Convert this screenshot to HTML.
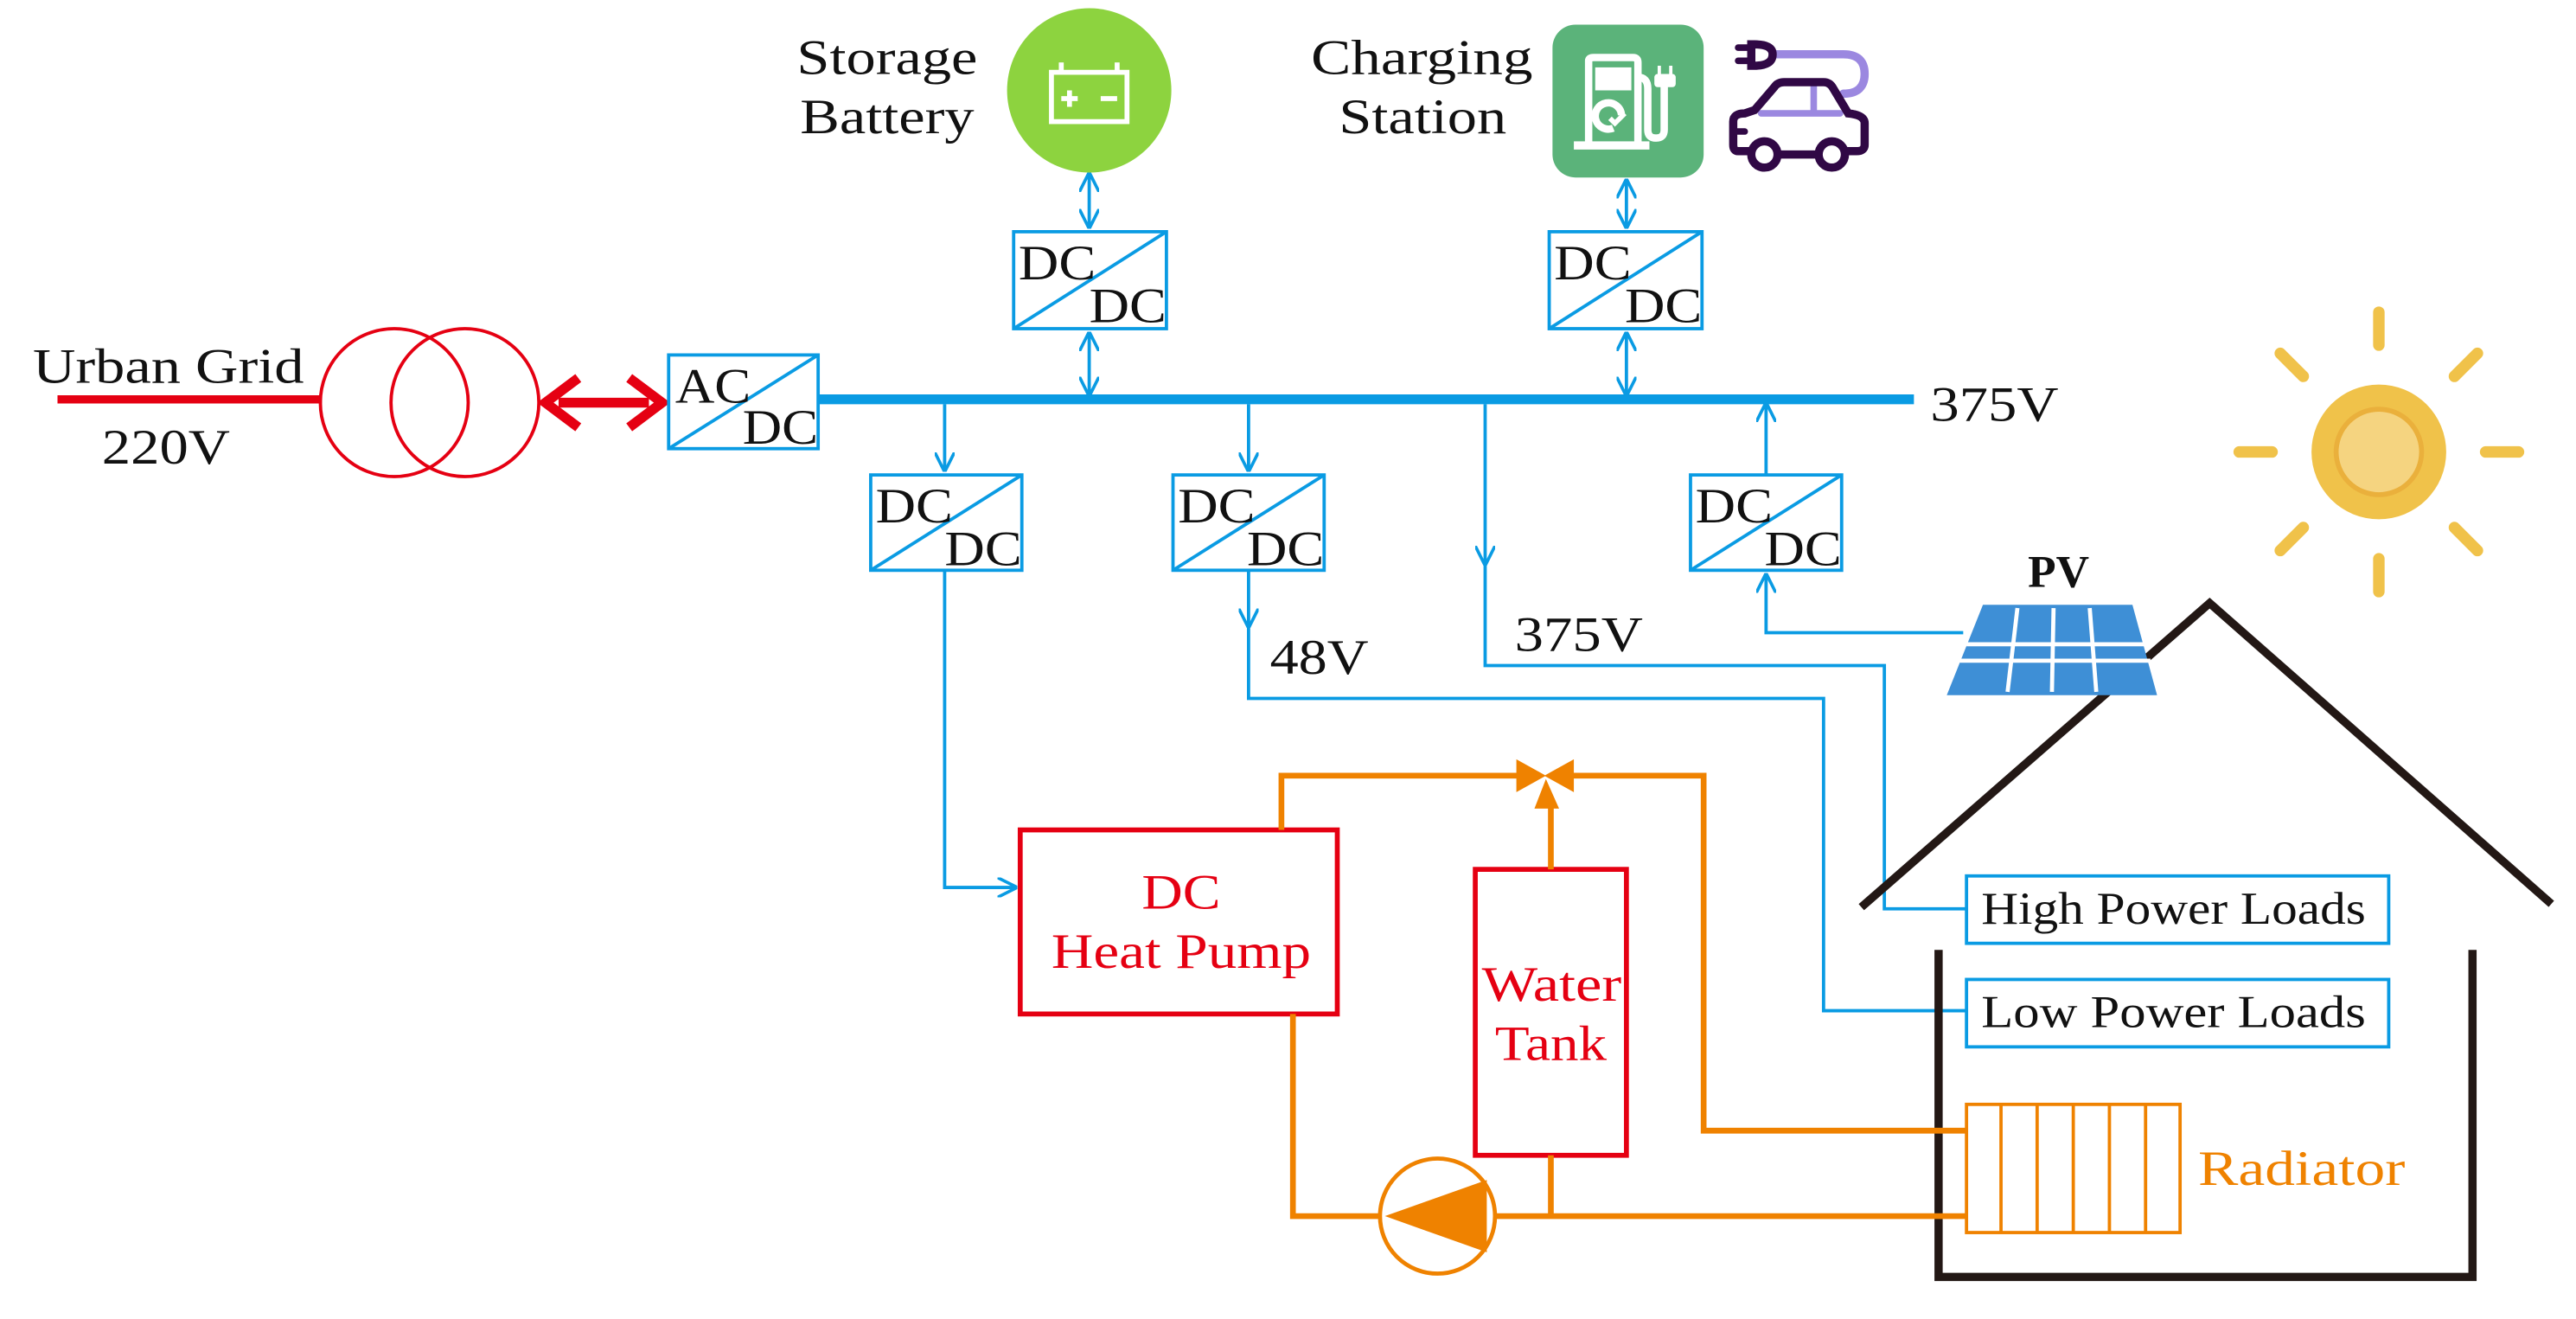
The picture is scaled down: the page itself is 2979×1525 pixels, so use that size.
<!DOCTYPE html>
<html><head><meta charset="utf-8"><style>
html,body{margin:0;padding:0;background:#fff}
svg{display:block}
text{font-family:"Liberation Serif",serif}
</style></head><body>
<svg width="2979" height="1525" viewBox="0 0 1568 802.6" preserveAspectRatio="none" xmlns="http://www.w3.org/2000/svg">
<defs>
<marker id="ab" viewBox="0 0 10 10" refX="9" refY="5" markerWidth="6" markerHeight="6" orient="auto-start-reverse"><path d="M0,0 L10,5 L0,10" fill="none" stroke="#0a9be3" stroke-width="1.6"/></marker>
</defs>
<g font-size="30" fill="#111" lengthAdjust="spacingAndGlyphs">
<text x="20" y="233" textLength="165" lengthAdjust="spacingAndGlyphs">Urban Grid</text>
<text x="62" y="282" textLength="78" lengthAdjust="spacingAndGlyphs">220V</text>
<text x="1175" y="256" textLength="78" lengthAdjust="spacingAndGlyphs">375V</text>
<text x="773" y="410" textLength="60" lengthAdjust="spacingAndGlyphs">48V</text>
<text x="922" y="396" textLength="78" lengthAdjust="spacingAndGlyphs">375V</text>
<text x="485" y="45" textLength="110" lengthAdjust="spacingAndGlyphs">Storage</text>
<text x="487" y="81" textLength="106" lengthAdjust="spacingAndGlyphs">Battery</text>
<text x="798" y="45" textLength="135" lengthAdjust="spacingAndGlyphs">Charging</text>
<text x="815" y="81" textLength="102" lengthAdjust="spacingAndGlyphs">Station</text>
<text x="1253" y="357" text-anchor="middle" font-weight="bold" font-size="28">PV</text>
</g>
<line x1="35" y1="243" x2="196" y2="243" stroke="#e50012" stroke-width="5"/>
<circle cx="240" cy="245" r="45" fill="none" stroke="#e50012" stroke-width="2"/>
<circle cx="283" cy="245" r="45" fill="none" stroke="#e50012" stroke-width="2"/>
<line x1="340" y1="245" x2="395" y2="245" stroke="#e50012" stroke-width="6"/>
<path d="M352,230 L332,245 L352,260 M383,230 L403,245 L383,260" fill="none" stroke="#e50012" stroke-width="6"/>
<line x1="498" y1="243" x2="1165" y2="243" stroke="#0a9be3" stroke-width="6"/>
<g fill="none" stroke="#0a9be3" stroke-width="2">
<rect x="407" y="216" width="91" height="57"/><line x1="407" y1="273" x2="498" y2="216"/>
<rect x="617" y="141" width="93" height="59"/><line x1="617" y1="200" x2="710" y2="141"/>
<rect x="943" y="141" width="93" height="59"/><line x1="943" y1="200" x2="1036" y2="141"/>
<rect x="530" y="289" width="92" height="58"/><line x1="530" y1="347" x2="622" y2="289"/>
<rect x="714" y="289" width="92" height="58"/><line x1="714" y1="347" x2="806" y2="289"/>
<rect x="1029" y="289" width="92" height="58"/><line x1="1029" y1="347" x2="1121" y2="289"/>
<line x1="663" y1="106" x2="663" y2="138" marker-start="url(#ab)" marker-end="url(#ab)"/>
<line x1="663" y1="203" x2="663" y2="240" marker-start="url(#ab)" marker-end="url(#ab)"/>
<line x1="990" y1="110" x2="990" y2="138" marker-start="url(#ab)" marker-end="url(#ab)"/>
<line x1="990" y1="203" x2="990" y2="240" marker-start="url(#ab)" marker-end="url(#ab)"/>
<line x1="575" y1="246" x2="575" y2="286" marker-end="url(#ab)"/>
<line x1="760" y1="246" x2="760" y2="286" marker-end="url(#ab)"/>
<line x1="1075" y1="289" x2="1075" y2="246" marker-end="url(#ab)"/>
<line x1="904" y1="246" x2="904" y2="343" marker-end="url(#ab)"/>
<polyline points="904,343 904,405 1147,405 1147,553 1197,553"/>
<line x1="760" y1="347" x2="760" y2="381" marker-end="url(#ab)"/>
<polyline points="760,381 760,425 1110,425 1110,615 1197,615"/>
<polyline points="575,347 575,540 618,540" marker-end="url(#ab)"/>
<polyline points="1195,385 1075,385 1075,350" marker-end="url(#ab)"/>
<rect x="1197" y="533" width="257" height="41"/>
<rect x="1197" y="596" width="257" height="41"/>
</g>
<g font-size="30" fill="#111">
<text x="411" y="245" textLength="46" lengthAdjust="spacingAndGlyphs">AC</text><text x="452" y="270" textLength="46" lengthAdjust="spacingAndGlyphs">DC</text>
<text x="620" y="170" textLength="47" lengthAdjust="spacingAndGlyphs">DC</text><text x="663" y="196" textLength="47" lengthAdjust="spacingAndGlyphs">DC</text>
<text x="946" y="170" textLength="47" lengthAdjust="spacingAndGlyphs">DC</text><text x="989" y="196" textLength="47" lengthAdjust="spacingAndGlyphs">DC</text>
<text x="533" y="318" textLength="47" lengthAdjust="spacingAndGlyphs">DC</text><text x="575" y="344" textLength="47" lengthAdjust="spacingAndGlyphs">DC</text>
<text x="717" y="318" textLength="47" lengthAdjust="spacingAndGlyphs">DC</text><text x="759" y="344" textLength="47" lengthAdjust="spacingAndGlyphs">DC</text>
<text x="1032" y="318" textLength="47" lengthAdjust="spacingAndGlyphs">DC</text><text x="1074" y="344" textLength="47" lengthAdjust="spacingAndGlyphs">DC</text>
<text x="1206" y="562" font-size="28" textLength="234" lengthAdjust="spacingAndGlyphs">High Power Loads</text>
<text x="1206" y="625" font-size="28" textLength="234" lengthAdjust="spacingAndGlyphs">Low Power Loads</text>
</g>
<circle cx="663" cy="55" r="50" fill="#8dd33f"/>
<g fill="none" stroke="#fff" stroke-width="3"><rect x="640" y="44" width="46" height="30"/><line x1="646" y1="38" x2="646" y2="44"/><line x1="680" y1="38" x2="680" y2="44"/></g>
<g stroke="#fff" stroke-width="3"><line x1="646" y1="60" x2="656" y2="60"/><line x1="651" y1="55" x2="651" y2="65"/><line x1="670" y1="60" x2="680" y2="60"/></g>
<!-- charging station -->
<rect x="945" y="15" width="92" height="93" rx="14" fill="#5bb37a"/>
<g fill="none" stroke="#fff" stroke-width="4.5">
<path d="M967,88 V37 Q967,35 970,35 H994 Q997,35 997,38 V88"/>
<path d="M997,47 Q1003,47 1003,54 V79 Q1003,84 1008,84 Q1013,84 1013,79 V50"/>
<path d="M982,78 A8,8 0 1 1 987,70"/>
<path d="M980,72 L983,75 L989,69" stroke-width="3"/>
</g>
<rect x="958" y="86" width="46" height="5" fill="#fff"/>
<rect x="971" y="41" width="22" height="14" fill="#fff"/>
<rect x="1007" y="45" width="13" height="8" rx="2" fill="#fff"/>
<rect x="1009" y="40" width="2" height="6" fill="#fff"/><rect x="1016" y="40" width="2" height="6" fill="#fff"/>
<!-- car -->
<g fill="none" stroke-linecap="round">
<path d="M1079,33 H1122 Q1135,33 1135,45 Q1135,57 1122,57" stroke="#9b88e0" stroke-width="5"/>
<path d="M1072,69 H1120 M1104,52 V69" stroke="#9b88e0" stroke-width="4"/>
<path d="M1068,27 Q1079,27 1079,33 Q1079,40 1068,40 H1066 V27 Z" stroke="#300845" stroke-width="5"/>
<line x1="1058" y1="29" x2="1064" y2="29" stroke="#300845" stroke-width="4"/>
<line x1="1058" y1="37" x2="1064" y2="37" stroke="#300845" stroke-width="4"/>
<path d="M1067,92 H1058 Q1055,92 1055,88 V74 Q1055,69 1062,69 L1068,67 L1080,53 Q1082,50 1086,50 H1110 Q1114,50 1116,54 L1125,69 Q1135,70 1135,75 V88 Q1135,92 1130,92 H1122 M1081,94 H1107" stroke="#300845" stroke-width="5"/>
<line x1="1056" y1="80" x2="1062" y2="80" stroke="#300845" stroke-width="4"/>
</g>
<circle cx="1074" cy="94" r="8" fill="#fff" stroke="#300845" stroke-width="5"/>
<circle cx="1115" cy="94" r="8" fill="#fff" stroke="#300845" stroke-width="5"/>
<!-- sun -->
<g stroke="#f0c24a" stroke-width="7" stroke-linecap="round">
<line x1="1448" y1="190" x2="1448" y2="210"/><line x1="1448" y1="340" x2="1448" y2="360"/>
<line x1="1363" y1="275" x2="1383" y2="275"/><line x1="1513" y1="275" x2="1533" y2="275"/>
<line x1="1388" y1="215" x2="1402" y2="229"/><line x1="1494" y1="321" x2="1508" y2="335"/>
<line x1="1508" y1="215" x2="1494" y2="229"/><line x1="1402" y1="321" x2="1388" y2="335"/>
</g>
<circle cx="1448" cy="275" r="41" fill="#f0c24a"/>
<circle cx="1448" cy="275" r="26" fill="#f5d480" stroke="#eab03c" stroke-width="3"/>
<path d="M1133,552 L1345,367 L1553,550" fill="none" stroke="#231815" stroke-width="5"/>
<path d="M1180,578 V777 H1505 V578" fill="none" stroke="#231815" stroke-width="5"/>
<path d="M1207,368 H1298 L1313,423 H1185 Z" fill="#3e8fd6"/>
<g stroke="#fff" stroke-width="2.5"><line x1="1197" y1="392" x2="1306" y2="392"/><line x1="1193" y1="402" x2="1309" y2="402"/><line x1="1228" y1="370" x2="1222" y2="421"/><line x1="1250" y1="370" x2="1249" y2="421"/><line x1="1272" y1="370" x2="1276" y2="421"/></g>
<g fill="none" stroke="#e50012" stroke-width="3">
<rect x="621" y="505" width="193" height="112"/>
<rect x="898" y="529" width="92" height="174"/>
</g>
<g fill="#e50012" font-size="30">
<text x="695" y="553" textLength="48" lengthAdjust="spacingAndGlyphs">DC</text><text x="640" y="589" textLength="158" lengthAdjust="spacingAndGlyphs">Heat Pump</text>
<text x="902" y="609" textLength="85" lengthAdjust="spacingAndGlyphs">Water</text><text x="910" y="645" textLength="68" lengthAdjust="spacingAndGlyphs">Tank</text>
</g>
<g fill="none" stroke="#ef8200" stroke-width="3.5">
<polyline points="780,505 780,472 928,472"/>
<polyline points="954,472 1037,472 1037,688 1197,688"/>
<polyline points="944,529 944,490"/>
<polyline points="787,617 787,740 840,740"/>
<polyline points="910,740 1197,740"/>
<polyline points="944,703 944,740"/>
</g>
<g fill="#ef8200">
<path d="M923,462 L941,472 L923,482 Z"/><path d="M958,462 L940,472 L958,482 Z"/>
<path d="M934,492 L949,492 L941,474 Z"/>
</g>
<circle cx="875" cy="740" r="35" fill="#fff" stroke="#ef8200" stroke-width="2.5"/>
<path d="M843,740 L905,718 V762 Z" fill="#ef8200"/>
<rect x="1197" y="672" width="130" height="78" fill="none" stroke="#ef8200" stroke-width="2"/>
<g stroke="#ef8200" stroke-width="2"><line x1="1218" y1="672" x2="1218" y2="750"/><line x1="1240" y1="672" x2="1240" y2="750"/><line x1="1262" y1="672" x2="1262" y2="750"/><line x1="1284" y1="672" x2="1284" y2="750"/><line x1="1306" y1="672" x2="1306" y2="750"/></g>
<text x="1338" y="721" fill="#ef8200" font-size="30" textLength="126" lengthAdjust="spacingAndGlyphs">Radiator</text>
</svg>
</body></html>
